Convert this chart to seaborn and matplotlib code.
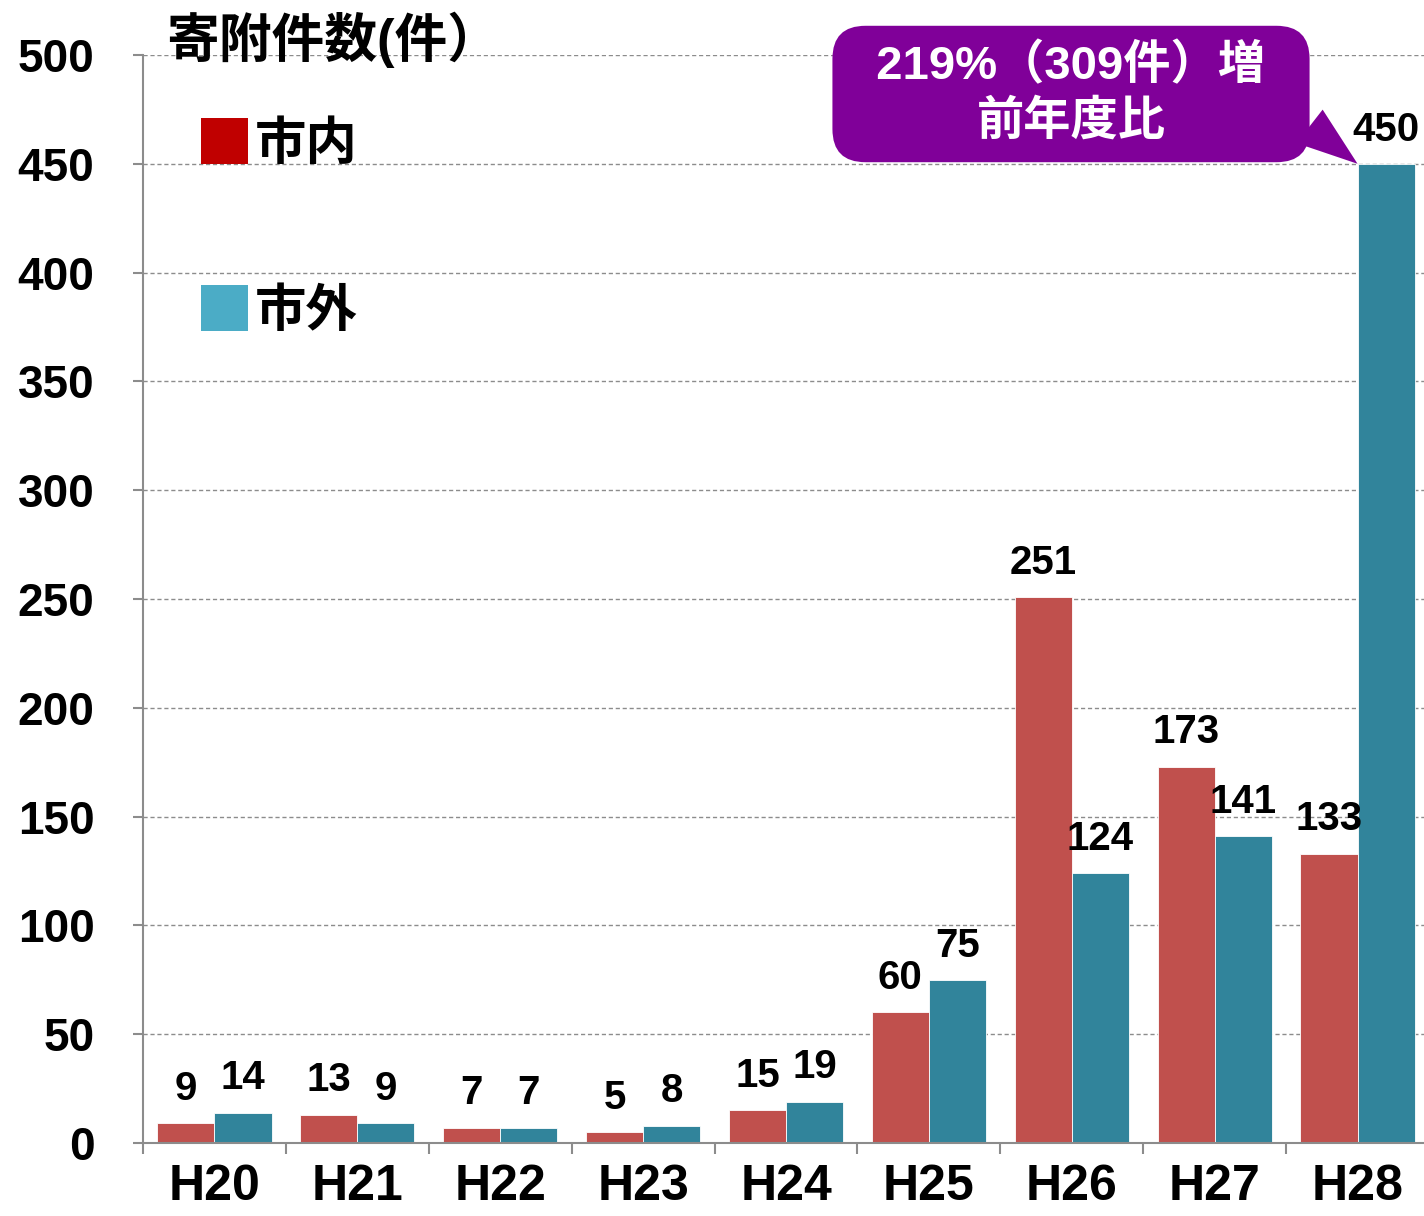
import numpy as np
import pandas as pd
import seaborn as sns
import matplotlib.pyplot as plt
from matplotlib.patches import Patch
from matplotlib.ticker import MultipleLocator, FixedLocator

sns.set_theme(style="white")
plt.rcParams['font.family'] = ['Liberation Sans', 'Noto Sans CJK JP']
plt.rcParams['text.color'] = 'black'
plt.rcParams['xtick.color'] = 'black'
plt.rcParams['ytick.color'] = 'black'

# data
years = ["H20", "H21", "H22", "H23", "H24", "H25", "H26", "H27", "H28"]
inside = [9, 13, 7, 5, 15, 60, 251, 173, 133]     # 市内
outside = [14, 9, 7, 8, 19, 75, 124, 141, 450]    # 市外
areas = ["市内", "市外"]
bar_colors = ["#C0504D", "#31849B"]
legend_colors = ["#C00000", "#4BACC6"]
title = "寄附件数(件）"
callout = "  219%（309件）増  \n前年度比"

df = pd.DataFrame({
    "year": years * 2,
    "count": inside + outside,
    "area": [areas[0]] * len(years) + [areas[1]] * len(years),
})

fig = plt.figure(figsize=(14.24, 12.16), dpi=100)
ax = fig.add_axes([143 / 1424, 73 / 1216, 1286 / 1424, 1088 / 1216])

sns.barplot(data=df, x="year", y="count", hue="area", palette=bar_colors,
            saturation=1, width=0.8, edgecolor="white", linewidth=0.6,
            legend=False, ax=ax)

ax.set_xlim(-0.5, len(years) - 0.5)
ax.set_ylim(0, 500)
ax.yaxis.set_major_locator(MultipleLocator(50))
ax.set_xlabel("")
ax.set_ylabel("")
ax.set_axisbelow(True)
ax.yaxis.grid(True, linestyle=(0, (3, 2)), color="#8C8C8C", linewidth=1)

for side in ["top", "right"]:
    ax.spines[side].set_visible(False)
for side in ["left", "bottom"]:
    ax.spines[side].set_color("#8C8C8C")
    ax.spines[side].set_linewidth(1.5)

ax.tick_params(axis="y", direction="out", length=7, width=1.5, color="#8C8C8C",
               labelcolor="black", pad=28, labelsize=33, left=True)
ax.tick_params(axis="x", which="major", length=0, pad=15, labelsize=36,
               labelcolor="black")
ax.xaxis.set_minor_locator(FixedLocator(np.arange(-0.5, len(years), 1.0)))
ax.tick_params(axis="x", which="minor", direction="out", length=8, width=1.5,
               color="#8C8C8C", bottom=True)
for lab in ax.get_yticklabels() + ax.get_xticklabels():
    lab.set_fontweight("bold")

for cont in ax.containers:
    ax.bar_label(cont, padding=11, fontsize=29, fontweight="bold", color="black")

# title
fig.text(166 / 1424, 1 - 12 / 1216, title, fontsize=38, fontweight="bold",
         ha="left", va="top", color="black")

# legend
handles = [Patch(facecolor=c, edgecolor="none", label=a)
           for c, a in zip(legend_colors, areas)]
leg = fig.legend(handles=handles, loc="upper left",
                 bbox_to_anchor=(155 / 1424, 1 - 72 / 1216), frameon=False,
                 fontsize=37, handlelength=0.9, handleheight=1.0,
                 handletextpad=0.15, labelspacing=2.25)
for t in leg.get_texts():
    t.set_fontweight("bold")
    t.set_color("black")

# callout
ax.annotate(callout, xy=(8, 450), xycoords="data",
            xytext=(1071, 1216 - 94), textcoords="figure pixels",
            ha="center", va="center", color="white", fontsize=34,
            fontweight="bold", linespacing=1.3, multialignment="center",
            bbox=dict(boxstyle="round,pad=0.38,rounding_size=0.7",
                      fc="#800099", ec="none"),
            arrowprops=dict(arrowstyle="wedge,tail_width=0.9,shrink_factor=0.5",
                            fc="#800099", ec="none", shrinkA=0, shrinkB=0,
                            relpos=(0.97, 0.42)),
            annotation_clip=False)

fig.savefig("out.png", dpi=100)
